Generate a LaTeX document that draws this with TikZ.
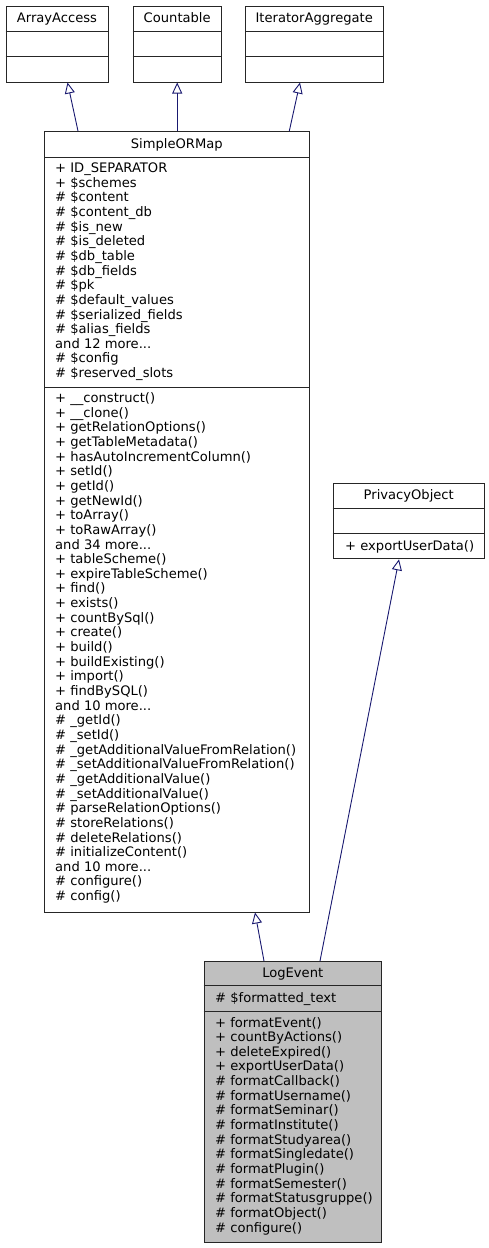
\documentclass[tikz,border=0pt]{standalone}
\usepackage{fontspec}
\setmainfont{DejaVu Sans}
\usepackage{tikz}
\usetikzlibrary{arrows.meta}
\definecolor{midnight}{HTML}{191970}
\definecolor{classgray}{HTML}{BFBFBF}

\begin{document}
\begin{tikzpicture}[x=1pt, y=-1pt]
        \tikzstyle{classbox} = [draw=black!85, line width=1pt, anchor=north west, inner sep=0pt]
        \tikzstyle{rule} = [draw=black!85, line width=1pt]
        \tikzstyle{classname} = [anchor=base, inner sep=0pt, font=\fontsize{13.1}{14.65}\selectfont]
        \tikzstyle{members} = [anchor=base west, align=left, inner sep=0pt, font=\fontsize{13.1}{14.65}\selectfont]
        \tikzstyle{inherit} = [-{Triangle[open, length=11pt, width=10pt]}, draw=midnight, line width=0.9pt]
        \useasboundingbox (0,0) rectangle (489,1248);
        % interfaces
        \node[classbox, minimum width=102pt, minimum height=76pt] (arrayaccess) at (5.5,5.5) {};
        \node[classbox, minimum width=88pt, minimum height=76pt] (countable) at (132.7,5.5) {};
        \node[classbox, minimum width=137.5pt, minimum height=76pt] (iteratoraggregate) at (245,5.5) {};
        \node[classname] (arrayaccess name) at ([shift={(0,16.5)}]arrayaccess.north) {ArrayAccess};
        \node[classname] (countable name) at ([shift={(0,16.5)}]countable.north) {Countable};
        \node[classname] (iteratoraggregate name) at ([shift={(0,16.5)}]iteratoraggregate.north) {IteratorAggregate};
        \draw[rule] ([shift={(0,26)}]arrayaccess.north west) -- ([shift={(0,26)}]arrayaccess.north east);
        \draw[rule] ([shift={(0,51)}]arrayaccess.north west) -- ([shift={(0,51)}]arrayaccess.north east);
        \draw[rule] ([shift={(0,26)}]countable.north west) -- ([shift={(0,26)}]countable.north east);
        \draw[rule] ([shift={(0,51)}]countable.north west) -- ([shift={(0,51)}]countable.north east);
        \draw[rule] ([shift={(0,26)}]iteratoraggregate.north west) -- ([shift={(0,26)}]iteratoraggregate.north east);
        \draw[rule] ([shift={(0,51)}]iteratoraggregate.north west) -- ([shift={(0,51)}]iteratoraggregate.north east);

        % SimpleORMap (member lists sit on the baseline of their last line)
        \node[classbox, minimum width=264.5pt, minimum height=780.5pt] (simpleormap) at (44,131) {};
        \node[classname] (simpleormap name) at ([shift={(0,17)}]simpleormap.north) {SimpleORMap};
        \draw[rule] ([shift={(0,26.3)}]simpleormap.north west) -- ([shift={(0,26.3)}]simpleormap.north east);
        \draw[rule] ([shift={(0,256)}]simpleormap.north west) -- ([shift={(0,256)}]simpleormap.north east);
        \node[members] (simpleormap attrs) at ([shift={(11,246.6)}]simpleormap.north west) {%
            + ID\_SEPARATOR\\
            + \$schemes\\
            \# \$content\\
            \# \$content\_db\\
            \# \$is\_new\\
            \# \$is\_deleted\\
            \# \$db\_table\\
            \# \$db\_fields\\
            \# \$pk\\
            \# \$default\_values\\
            \# \$serialized\_fields\\
            \# \$alias\_fields\\
            and 12 more...\\
            \# \$config\\
            \# \$reserved\_slots};
        \node[members] (simpleormap ops) at ([shift={(11,769.6)}]simpleormap.north west) {%
            + \_\_construct()\\
            + \_\_clone()\\
            + getRelationOptions()\\
            + getTableMetadata()\\
            + hasAutoIncrementColumn()\\
            + setId()\\
            + getId()\\
            + getNewId()\\
            + toArray()\\
            + toRawArray()\\
            and 34 more...\\
            + tableScheme()\\
            + expireTableScheme()\\
            + find()\\
            + exists()\\
            + countBySql()\\
            + create()\\
            + build()\\
            + buildExisting()\\
            + import()\\
            + findBySQL()\\
            and 10 more...\\
            \# \_getId()\\
            \# \_setId()\\
            \# \_getAdditionalValueFromRelation()\\
            \# \_setAdditionalValueFromRelation()\\
            \# \_getAdditionalValue()\\
            \# \_setAdditionalValue()\\
            \# parseRelationOptions()\\
            \# storeRelations()\\
            \# deleteRelations()\\
            \# initializeContent()\\
            and 10 more...\\
            \# configure()\\
            \# config()};

        % PrivacyObject
        \node[classbox, minimum width=151.5pt, minimum height=75pt] (privacyobject) at (332.5,483.3) {};
        \node[classname] (privacyobject name) at ([shift={(0,16.5)}]privacyobject.north) {PrivacyObject};
        \draw[rule] ([shift={(0,25)}]privacyobject.north west) -- ([shift={(0,25)}]privacyobject.north east);
        \draw[rule] ([shift={(0,50)}]privacyobject.north west) -- ([shift={(0,50)}]privacyobject.north east);
        \node[members] (privacyobject ops) at ([shift={(12.5,67)}]privacyobject.north west) {+ exportUserData()};

        % LogEvent
        \node[classbox, fill=classgray, minimum width=177.5pt, minimum height=280.5pt] (logevent) at (203.5,961) {};
        \node[classname] (logevent name) at ([shift={(0,16.5)}]logevent.north) {LogEvent};
        \draw[rule] ([shift={(0,24.7)}]logevent.north west) -- ([shift={(0,24.7)}]logevent.north east);
        \draw[rule] ([shift={(0,50.7)}]logevent.north west) -- ([shift={(0,50.7)}]logevent.north east);
        \node[members] (logevent attrs) at ([shift={(11.5,41)}]logevent.north west) {\# \$formatted\_text};
        \node[members] (logevent ops) at ([shift={(11.5,271.1)}]logevent.north west) {%
            + formatEvent()\\
            + countByActions()\\
            + deleteExpired()\\
            + exportUserData()\\
            \# formatCallback()\\
            \# formatUsername()\\
            \# formatSeminar()\\
            \# formatInstitute()\\
            \# formatStudyarea()\\
            \# formatSingledate()\\
            \# formatPlugin()\\
            \# formatSemester()\\
            \# formatStatusgruppe()\\
            \# formatObject()\\
            \# configure()};

        % inheritance
        \draw[inherit] ([shift={(34,0)}]simpleormap.north west) -- ([shift={(62,0)}]arrayaccess.south west);
        \draw[inherit] (simpleormap.north -| countable.south) -- (countable.south);
        \draw[inherit] ([shift={(245.3,0)}]simpleormap.north west) -- ([shift={(55,0)}]iteratoraggregate.south west);
        \draw[inherit] ([shift={(60.5,0)}]logevent.north west) -- ([shift={(211,0)}]simpleormap.south west);
        \draw[inherit] ([shift={(116.5,0)}]logevent.north west) -- ([shift={(66.5,0)}]privacyobject.south west);
\end{tikzpicture}
\end{document}
